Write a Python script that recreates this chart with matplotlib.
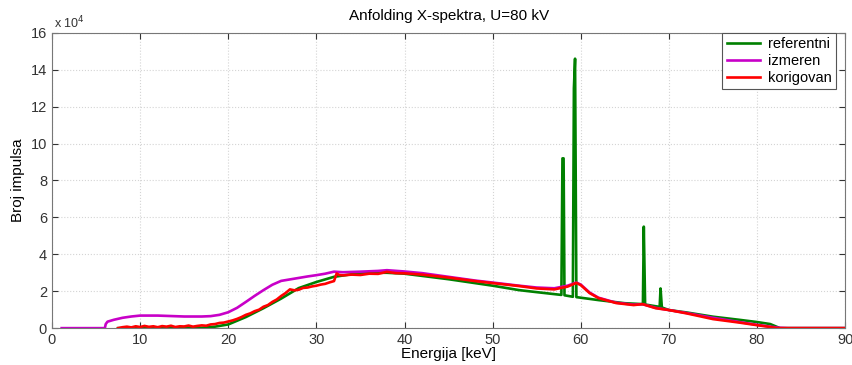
import matplotlib
matplotlib.use("Agg")
from matplotlib import pyplot as plt
from matplotlib.ticker import FuncFormatter

plt.rcParams['font.family'] = ['Liberation Sans', 'DejaVu Sans']

# referentni spektar (x 1e4 impulsa)
energy_ref = [7.5, 10, 15, 17, 18.5, 20, 22, 24, 26, 28, 30, 32, 34, 36, 38, 40, 45, 50, 53, 55,
              57.8, 57.92, 58.05, 58.15, 59.1, 59.22, 59.35, 59.5, 62, 65, 67.05, 67.15, 67.3,
              68.95, 69.05, 69.2, 70, 72, 75, 78, 80, 81.5, 82.6, 90]
counts_ref = [0, 0, 0, 0.02, 0.08, 0.2, 0.6, 1.08, 1.6, 2.17, 2.5, 2.78, 2.92, 3.0, 3.0, 2.95, 2.65, 2.3, 2.06, 1.95,
              1.8, 9.2, 9.2, 1.78, 1.7, 13.0, 14.6, 1.68, 1.52, 1.35, 1.3, 5.5, 1.28,
              1.15, 2.15, 1.12, 0.98, 0.85, 0.62, 0.45, 0.33, 0.22, 0.0, 0.0]

# izmereni spektar
energy_izm = [1.1, 6.0, 6.1, 6.3, 7, 8, 9, 10, 12, 15, 17, 18, 19, 20, 21, 22, 23, 24, 25, 26, 27, 28, 29, 30,
              31, 32, 33, 35, 37, 38, 40, 42, 45, 48, 50, 53, 55, 57, 58.5, 59.5, 60, 61, 62, 64, 66, 67,
              68.5, 70, 72, 75, 78, 80, 81.5, 82.5, 83.5, 90]
counts_izm = [0, 0, 0.22, 0.35, 0.45, 0.56, 0.63, 0.68, 0.68, 0.63, 0.63, 0.65, 0.72, 0.86, 1.1, 1.42, 1.75, 2.06, 2.35, 2.56, 2.64, 2.72, 2.8, 2.87,
              2.95, 3.06, 3.03, 3.06, 3.1, 3.14, 3.07, 2.98, 2.78, 2.58, 2.47, 2.3, 2.2, 2.16, 2.3, 2.47, 2.36, 1.93, 1.65, 1.38, 1.27, 1.3,
              1.1, 0.98, 0.82, 0.56, 0.33, 0.18, 0.08, 0.02, 0.0, 0.0]

# korigovani spektar
energy_kor = [7.5, 8, 8.5, 9, 9.5, 10, 10.5, 11, 11.5, 12, 12.5, 13, 13.5, 14, 14.5, 15, 15.5, 16, 16.5, 17, 17.5,
              18, 18.5, 19, 19.5, 20, 20.5, 21, 21.5, 22, 22.5, 23, 23.5, 24, 24.5, 25, 25.5, 26, 26.5, 27, 27.5,
              28, 28.5, 29, 29.5, 30, 30.5, 31, 31.5, 32, 32.3, 32.6, 33, 34, 35, 36, 37, 38, 39, 40, 42, 45, 48,
              50, 53, 55, 57, 58.5, 59.5, 60, 61, 62, 64, 66, 67, 68.5, 70, 72, 75, 78, 80, 81.5, 82.3, 83.5, 90]
counts_kor = [0.0, 0.05, 0.08, 0.04, 0.1, 0.06, 0.12, 0.07, 0.1, 0.05, 0.11, 0.08, 0.13, 0.06, 0.1, 0.09, 0.14, 0.08, 0.12, 0.15, 0.13,
              0.2, 0.22, 0.28, 0.3, 0.36, 0.42, 0.5, 0.6, 0.72, 0.8, 0.92, 1.0, 1.16, 1.25, 1.42, 1.55, 1.74, 1.9, 2.1, 2.05,
              2.08, 2.18, 2.2, 2.26, 2.3, 2.36, 2.4, 2.48, 2.55, 2.96, 2.88, 2.86, 2.9, 2.88, 2.95, 2.94, 3.05, 2.98, 2.97, 2.9, 2.74, 2.55,
              2.44, 2.28, 2.15, 2.1, 2.25, 2.45, 2.33, 1.9, 1.63, 1.36, 1.25, 1.3, 1.08, 0.98, 0.8, 0.49, 0.3, 0.16, 0.06, 0.0, 0.0, 0.0]

scale = 1e4

fig = plt.figure(figsize=(8.52, 3.65), dpi=100)
ax = fig.add_axes([0.061, 0.101, 0.931, 0.809])

ax.plot(energy_ref, [c * scale for c in counts_ref], color='#008000', lw=1.9, label='referentni')
ax.plot(energy_izm, [c * scale for c in counts_izm], color='#c800c8', lw=1.9, label='izmeren')
ax.plot(energy_kor, [c * scale for c in counts_kor], color='#ff0000', lw=1.9, label='korigovan')

ax.set_xlim(0, 90)
ax.set_ylim(0, 16e4)
ax.set_xticks(range(0, 91, 10))
ax.set_yticks([v * scale for v in range(0, 17, 2)])
ax.yaxis.set_major_formatter(FuncFormatter(lambda v, p: f"{v / scale:.0f}"))
ax.grid(True, linestyle=':', color='#d4d4d4', linewidth=0.8)
ax.tick_params(direction='in', top=True, right=True, labelsize=10.5, colors='#333333', length=4)
for s in ax.spines.values():
    s.set_color('#777777')

ax.text(0.002, 1.006, r'x 10$^4$', transform=ax.transAxes, fontsize=9, color='#333333', va='bottom')
ax.set_title('Anfolding X-spektra, U=80 kV', fontsize=11, pad=9)
ax.set_xlabel('Energija [keV]', fontsize=11, labelpad=0)
ax.set_ylabel('Broj impulsa', fontsize=11, labelpad=4)

leg = ax.legend(loc='upper right', bbox_to_anchor=(0.988, 1.0), fancybox=False, framealpha=1,
                edgecolor='#555555', fontsize=10.5, handlelength=2.3, handletextpad=0.5,
                borderpad=0.3, labelspacing=0.2, borderaxespad=0.0)
leg.get_frame().set_linewidth(0.8)

fig.savefig('out.png', dpi=100)
